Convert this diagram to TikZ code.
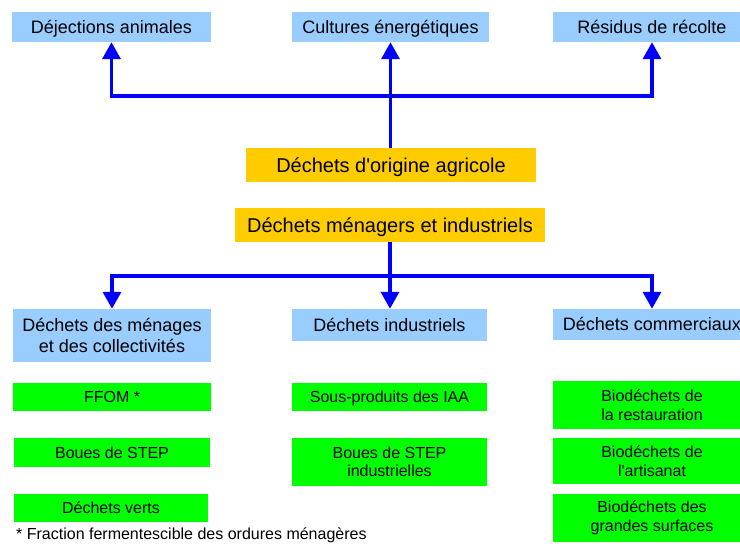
\documentclass[tikz,border=0pt]{standalone}
\usepackage{fontspec}
\setmainfont{Liberation Sans}
\usetikzlibrary{arrows.meta}
\definecolor{lblue}{HTML}{99CCFF}
\definecolor{gold}{HTML}{FFCC00}
\definecolor{lgreen}{HTML}{00FF00}
\definecolor{lineblue}{HTML}{0000FF}
\begin{document}
\begin{tikzpicture}[x=1pt,y=-1pt,
 box/.style={inner sep=0pt, align=center, text=black},
 bluebox/.style={box, fill=lblue, font=\fontsize{18}{21}\selectfont},
 goldbox/.style={box, fill=gold, font=\fontsize{20}{24}\selectfont, text height=14.3pt, text depth=0pt},
 greenbox/.style={box, fill=lgreen, font=\fontsize{16}{18.5}\selectfont},
 oneblue/.style={bluebox, text height=12.9pt, text depth=0pt},
 onegreen/.style={greenbox, text height=11.5pt, text depth=0pt},
 conn/.style={draw=lineblue, line width=3.5pt},
 arr/.style={conn, -{Triangle[width=18pt,length=17pt]}},
]
\clip (0,0) rectangle (740,544);
% top row
\node[oneblue, minimum width=199pt, minimum height=30pt] (dej) at (111.5,27) {Déjections animales};
\node[oneblue, minimum width=197pt, minimum height=30pt] (cult) at (390.5,27) {Cultures énergétiques};
\node[oneblue, minimum width=198pt, minimum height=30pt] (res) at (652,27) {Résidus de récolte};
% gold boxes
\node[goldbox, minimum width=290pt, minimum height=34pt] (agr) at (391,165) {Déchets d\textquotesingle origine agricole};
\node[goldbox, minimum width=310pt, minimum height=34pt] (mi) at (390,225) {Déchets ménagers et industriels};
% middle row
\node[bluebox, minimum width=198pt, minimum height=53pt] (men) at (112,335.5) {Déchets des ménages\\et des collectivités};
\node[oneblue, minimum width=195pt, minimum height=32pt] (ind) at (389.5,325) {Déchets industriels};
\node[oneblue, minimum width=198pt, minimum height=31pt] (com) at (652,324.5) {Déchets commerciaux};
% green boxes
\node[onegreen, minimum width=198pt, minimum height=28pt] (ffom) at (112,397) {FFOM *};
\node[onegreen, minimum width=196pt, minimum height=29pt] (boues) at (112,452.5) {Boues de STEP};
\node[onegreen, minimum width=194pt, minimum height=28pt] (verts) at (111,508) {Déchets verts};
\node[onegreen, minimum width=195pt, minimum height=28pt] (sous) at (389.5,397) {Sous-produits des IAA};
\node[greenbox, minimum width=195pt, minimum height=48pt] (bind) at (389.5,462) {Boues de STEP\\industrielles};
\node[greenbox, minimum width=198pt, minimum height=48pt] (bio1) at (652,405) {Biodéchets de\\la restauration};
\node[greenbox, minimum width=198pt, minimum height=46pt] (bio2) at (652,461) {Biodéchets de\\l\textquotesingle artisanat};
\node[greenbox, minimum width=198pt, minimum height=48pt] (bio3) at (652,518) {Biodéchets des\\grandes surfaces};
% footnote
\node[anchor=base west, inner sep=0pt, font=\fontsize{16}{19}\selectfont] (fn) at (16,539) {* Fraction fermentescible des ordures ménagères};
% connectors (agricultural)
\coordinate (jA) at (390.5,96);
\draw[arr] (agr.north -| cult.south) -- (cult.south);
\draw[arr] (jA) -| (dej);
\draw[arr] (jA) -| (res);
% connectors (household / industrial)
\coordinate (jB) at (390,276);
\draw[conn] (mi.south) -- (jB);
\draw[arr] (jB) -| (men);
\draw[arr] (jB) -- (jB |- ind.north);
\draw[arr] (jB) -| (com);
\end{tikzpicture}
\end{document}
